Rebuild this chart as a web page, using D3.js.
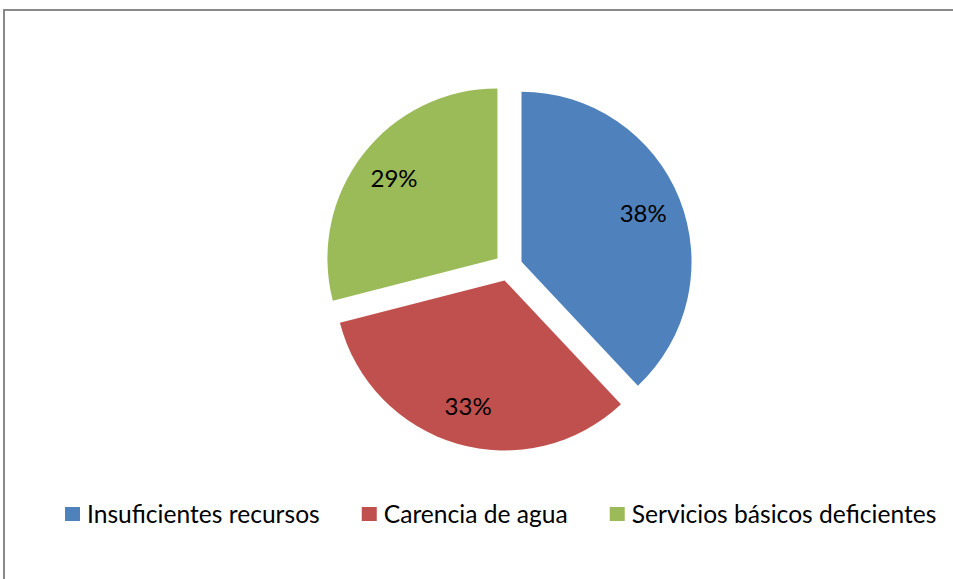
<!DOCTYPE html>
<html>
<head>
<meta charset="utf-8">
<script src="https://cdn.jsdelivr.net/npm/d3@7"></script>
<style>
  html, body { margin: 0; padding: 0; background: #fff; }
  svg { display: block; }
</style>
</head>
<body>
<svg id="chart" width="953" height="579"></svg>
<script>
// ---- data ----
const categories = ["Insuficientes recursos", "Carencia de agua", "Servicios básicos deficientes"];
const values = [38, 33, 29];
const colors = ["#4F81BD", "#C0504D", "#9BBB59"];

// ---- layout ----
const W = 953, H = 579;
const cx = 508.5, cy = 267, radius = 170, explode = 14;
const fontFam = "Lato, 'Open Sans', sans-serif";

const svg = d3.select("#chart");

// frame
svg.append("rect")
  .attr("x", 4).attr("y", 10)
  .attr("width", 1000).attr("height", 700)
  .attr("fill", "#fff")
  .attr("stroke", "#8a8a8a")
  .attr("stroke-width", 2);

const total = d3.sum(values);
const pie = d3.pie().sort(null).value(d => d)(values);
const arc = d3.arc().innerRadius(0).outerRadius(radius);
const labelArc = d3.arc().innerRadius(radius * 0.77).outerRadius(radius * 0.77);

const g = svg.append("g").attr("transform", `translate(${cx},${cy})`);

const slices = g.selectAll("g.slice").data(pie).enter().append("g")
  .attr("class", "slice")
  .attr("transform", d => {
    const a = (d.startAngle + d.endAngle) / 2;
    return `translate(${explode * Math.sin(a)},${-explode * Math.cos(a)})`;
  });

slices.append("path")
  .attr("d", arc)
  .attr("fill", (d, i) => colors[i]);

slices.append("text")
  .attr("transform", d => `translate(${labelArc.centroid(d)})`)
  .attr("text-anchor", "middle")
  .attr("dy", "0.36em")
  .attr("font-family", fontFam)
  .attr("font-size", 24)
  .attr("fill", "#000")
  .text(d => Math.round(d.value / total * 100) + "%");

// legend
const legend = svg.append("g");
const legFont = 24.6;
let x = 65;
const legY = 514;
categories.forEach((c, i) => {
  legend.append("rect")
    .attr("x", x).attr("y", legY - 7)
    .attr("width", 15).attr("height", 14)
    .attr("fill", colors[i]);
  const t = legend.append("text")
    .attr("x", x + 22).attr("y", legY)
    .attr("dy", "0.35em")
    .attr("font-family", fontFam)
    .attr("font-size", legFont)
    .attr("fill", "#000")
    .text(c);
  x += 22 + t.node().getComputedTextLength() + 42;
});
</script>
</body>
</html>
